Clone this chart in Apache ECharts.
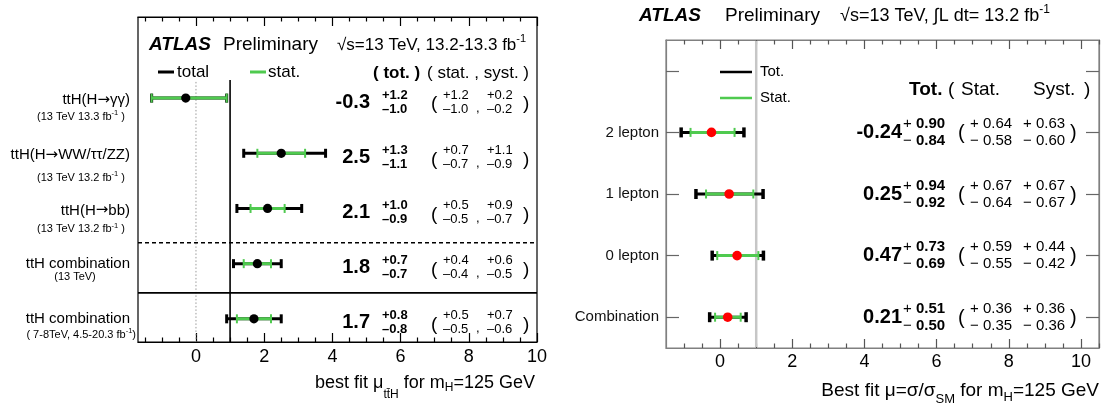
<!DOCTYPE html>
<html>
<head>
<meta charset="utf-8">
<script src="https://cdn.jsdelivr.net/npm/echarts@6/dist/echarts.min.js"></script>
<style>
  html, body { margin: 0; padding: 0; background: #fff; }
  #chart { width: 1102px; height: 406px; }
</style>
</head>
<body>
<div id="chart"></div>
<script>
// ---- ttH signal strength by channel (left panel) ----
const leftRows = ['ttH(H\u2192\u03b3\u03b3)', 'ttH(H\u2192WW/\u03c4\u03c4/ZZ)', 'ttH(H\u2192bb)', 'ttH combination', 'ttH combination'];
const leftSubs = ['(13 TeV 13.3 fb^{-1} )', '(13 TeV 13.2 fb^{-1} )', '(13 TeV 13.2 fb^{-1} )', '(13 TeV)', '( 7-8TeV, 4.5-20.3 fb^{-1})'];
const leftMu     = [-0.3, 2.5, 2.1, 1.8, 1.7];
const leftTotUp  = [1.2, 1.3, 1.0, 0.7, 0.8];
const leftTotDn  = [1.0, 1.1, 0.9, 0.7, 0.8];
const leftStatUp = [1.2, 0.7, 0.5, 0.4, 0.5];
const leftStatDn = [1.0, 0.7, 0.5, 0.4, 0.5];
const leftSystUp = [0.2, 1.1, 0.9, 0.6, 0.7];
const leftSystDn = [0.2, 0.9, 0.7, 0.5, 0.6];
const leftTickLabels = [0, 2, 4, 6, 8, 10];

// ---- ttH multilepton categories (right panel) ----
const rightRows = ['2 lepton', '1 lepton', '0 lepton', 'Combination'];
const rightMu     = [-0.24, 0.25, 0.47, 0.21];
const rightTotUp  = [0.90, 0.94, 0.73, 0.51];
const rightTotDn  = [0.84, 0.92, 0.69, 0.50];
const rightStatUp = [0.64, 0.67, 0.59, 0.36];
const rightStatDn = [0.58, 0.64, 0.55, 0.35];
const rightSystUp = [0.63, 0.67, 0.44, 0.36];
const rightSystDn = [0.60, 0.67, 0.42, 0.36];
const rightTickLabels = [0, 2, 4, 6, 8, 10];

const FONT = '"Liberation Sans", Arial, Helvetica, sans-serif';
const ARROW_FONT = '"DejaVu Sans", sans-serif';
const GREEN = '#4fca4f';
const MINUS = '\u2212';
const DASH = '\u2013';

// text measuring, so mixed-size runs (sub/superscripts) can be laid out on one line
const mctx = document.createElement('canvas').getContext('2d');
function fontStr(p) { return (p.italic ? 'italic ' : '') + (p.bold ? 'bold ' : '') + p.size + 'px ' + (p.family || FONT); }
function measure(p) { mctx.font = fontStr(p); return mctx.measureText(p.t).width; }
function runs(parts, x, y, anchor) {
  const w = parts.map(measure);
  const total = w.reduce((a, b) => a + b, 0);
  let cx = anchor === 'right' ? x - total : anchor === 'center' ? x - total / 2 : x;
  return parts.map((p, k) => {
    const el = {
      type: 'text', x: cx, y: y + (p.dy || 0), silent: true,
      style: {
        text: p.t, fontSize: p.size, fontFamily: p.family || FONT,
        fontWeight: p.bold ? 'bold' : 'normal', fontStyle: p.italic ? 'italic' : 'normal',
        fill: p.color || '#000', align: 'left', verticalAlign: 'middle'
      }
    };
    cx += w[k];
    return el;
  });
}
// "fb^{-1}" -> runs with a raised exponent
function supRuns(str, size, supSize, supDy) {
  const out = [];
  str.split(/\^\{([^}]*)\}/).forEach((s, k) => {
    if (!s) return;
    out.push(k % 2 ? { t: s, size: supSize, dy: supDy } : { t: s, size: size });
  });
  return out;
}
// decay arrows drawn with a font that has a long arrow glyph
function arrowRuns(str, size) {
  const out = [];
  str.split('\u2192').forEach((s, k) => {
    if (k > 0) out.push({ t: '\u2192', size: size, family: ARROW_FONT });
    if (s) out.push({ t: s, size: size });
  });
  return out;
}
const f1 = v => (v < 0 ? '-' : '') + Math.abs(v).toFixed(1);
const f2 = v => (v < 0 ? '-' : '') + Math.abs(v).toFixed(2);

// ---- axis helpers ----
function range(a, b, s) { const r = []; for (let v = a; v <= b + 1e-9; v += s) r.push(Math.round(v * 100) / 100); return r; }
function xAxes(gridIndex, min, max, majors, minors, lineColor, tickColor, labelSize, margin) {
  const base = { type: 'value', gridIndex, min, max, splitLine: { show: false } };
  const line = { show: true, onZero: false, lineStyle: { color: lineColor, width: 1.2 } };
  return [
    Object.assign({}, base, { position: 'bottom', axisLine: line,
      axisTick: { show: true, inside: true, length: 9, customValues: majors, lineStyle: { color: tickColor, width: 1.2 } },
      axisLabel: { show: true, customValues: majors, fontSize: labelSize, fontFamily: FONT, color: '#000', margin } }),
    Object.assign({}, base, { position: 'bottom', axisLine: { show: false, onZero: false },
      axisTick: { show: true, inside: true, length: 4.5, customValues: minors, lineStyle: { color: tickColor, width: 1.2 } },
      axisLabel: { show: false } }),
    Object.assign({}, base, { position: 'top', axisLine: line,
      axisTick: { show: true, inside: true, length: 9, customValues: majors, lineStyle: { color: tickColor, width: 1.2 } },
      axisLabel: { show: false } }),
    Object.assign({}, base, { position: 'top', axisLine: { show: false, onZero: false },
      axisTick: { show: true, inside: true, length: 4.5, customValues: minors, lineStyle: { color: tickColor, width: 1.2 } },
      axisLabel: { show: false } })
  ];
}

const L = { mu: leftMu, totUp: leftTotUp, totDn: leftTotDn, statUp: leftStatUp, statDn: leftStatDn, systUp: leftSystUp, systDn: leftSystDn };
const R = { mu: rightMu, totUp: rightTotUp, totDn: rightTotDn, statUp: rightStatUp, statDn: rightStatDn, systUp: rightSystUp, systDn: rightSystDn };

const seg = (x1, y1, x2, y2, stroke, w, dash) => ({
  type: 'line', shape: { x1, y1, x2, y2 }, silent: true,
  style: { stroke, lineWidth: w, lineDash: dash || null }
});

// error bar: black total band with caps, green stat band with ticks, marker on top
function errorBars(d, dot, o, texts) {
  return function (params, api) {
    const i = api.value(2);
    const yv = api.value(1);
    const m = d.mu[i];
    const c = api.coord([m, yv]);
    const y = c[1];
    const lo = api.coord([m - d.totDn[i], yv])[0];
    const hi = api.coord([m + d.totUp[i], yv])[0];
    const slo = api.coord([m - d.statDn[i], yv])[0];
    const shi = api.coord([m + d.statUp[i], yv])[0];
    const k = [
      seg(lo, y, hi, y, '#000', o.lw),
      seg(lo, y - o.cap, lo, y + o.cap, '#000', o.capW),
      seg(hi, y - o.cap, hi, y + o.cap, '#000', o.capW),
      seg(slo, y, shi, y, GREEN, o.lw),
      seg(slo, y - o.tick, slo, y + o.tick, GREEN, o.tickW),
      seg(shi, y - o.tick, shi, y + o.tick, GREEN, o.tickW),
      { type: 'circle', shape: { cx: c[0], cy: y, r: o.r }, style: { fill: dot }, silent: true }
    ];
    return { type: 'group', children: k.concat(texts(i, y)) };
  };
}

// left panel text block per row
const subDy = [19, 25, 21, 13, 16];
const subAnchor = [[125, 'right'], [125, 'right'], [125, 'right'], [75, 'center'], [136, 'right']];
const mainDy = [2, 2, 2, 0, 0];
function leftTexts(i, y) {
  const t = y + 4;
  let els = [];
  els = els.concat(runs(arrowRuns(leftRows[i], 15), 130, y + mainDy[i], 'right'));
  els = els.concat(runs(supRuns(leftSubs[i], 11, 7.5, -4), subAnchor[i][0], y + subDy[i], subAnchor[i][1]));
  els = els.concat(runs([{ t: f1(leftMu[i]), size: 20, bold: true }], 370, t, 'right'));
  els = els.concat(runs([{ t: '+' + leftTotUp[i].toFixed(1), size: 13, bold: true }], 382, t - 7, 'left'));
  els = els.concat(runs([{ t: DASH + leftTotDn[i].toFixed(1), size: 13, bold: true }], 382, t + 7, 'left'));
  els = els.concat(runs([{ t: '(', size: 19 }], 431, t + 2, 'left'));
  els = els.concat(runs([{ t: '+' + leftStatUp[i].toFixed(1), size: 13 }], 443, t - 7, 'left'));
  els = els.concat(runs([{ t: DASH + leftStatDn[i].toFixed(1), size: 13 }], 443, t + 7, 'left'));
  els = els.concat(runs([{ t: ',', size: 13 }], 476, t + 6, 'left'));
  els = els.concat(runs([{ t: '+' + leftSystUp[i].toFixed(1), size: 13 }], 487, t - 7, 'left'));
  els = els.concat(runs([{ t: DASH + leftSystDn[i].toFixed(1), size: 13 }], 487, t + 7, 'left'));
  els = els.concat(runs([{ t: ')', size: 19 }], 523, t + 2, 'left'));
  return els;
}

// right panel text block per row
function rightTexts(i, y) {
  let els = [];
  els = els.concat(runs([{ t: f2(rightMu[i]), size: 20, bold: true }], 902, y, 'right'));
  els = els.concat(runs([{ t: '+ ', size: 15 }, { t: rightTotUp[i].toFixed(2), size: 15, bold: true }], 903, y - 8.5, 'left'));
  els = els.concat(runs([{ t: MINUS + ' ', size: 15 }, { t: rightTotDn[i].toFixed(2), size: 15, bold: true }], 903, y + 8.5, 'left'));
  els = els.concat(runs([{ t: '(', size: 20 }], 958, y + 1, 'left'));
  els = els.concat(runs([{ t: '+ ' + rightStatUp[i].toFixed(2), size: 15 }], 970, y - 8.5, 'left'));
  els = els.concat(runs([{ t: MINUS + ' ' + rightStatDn[i].toFixed(2), size: 15 }], 970, y + 8.5, 'left'));
  els = els.concat(runs([{ t: '+ ' + rightSystUp[i].toFixed(2), size: 15 }], 1023, y - 8.5, 'left'));
  els = els.concat(runs([{ t: MINUS + ' ' + rightSystDn[i].toFixed(2), size: 15 }], 1023, y + 8.5, 'left'));
  els = els.concat(runs([{ t: ')', size: 20 }], 1070, y + 1, 'left'));
  return els;
}

// static annotations: experiment labels, legends, column headers, axis titles
let graphics = [];
graphics = graphics.concat(runs([{ t: 'ATLAS', size: 19, bold: true, italic: true }], 149, 45, 'left'));
graphics = graphics.concat(runs([{ t: 'Preliminary', size: 19 }], 223, 45, 'left'));
graphics = graphics.concat(runs(supRuns('\u221as=13 TeV, 13.2-13.3 fb^{-1}', 17, 11, -6), 337, 45, 'left'));
graphics.push(seg(158, 72, 174, 72, '#000', 3));
graphics = graphics.concat(runs([{ t: 'total', size: 17 }], 177, 72, 'left'));
graphics.push(seg(250, 72, 266, 72, GREEN, 3));
graphics = graphics.concat(runs([{ t: 'stat.', size: 17 }], 268, 72, 'left'));
graphics = graphics.concat(runs([{ t: '( tot. )', size: 17, bold: true }], 373, 73, 'left'));
graphics = graphics.concat(runs([{ t: '( stat. , syst. )', size: 17 }], 427, 73, 'left'));
graphics = graphics.concat(runs([
  { t: 'best fit \u03bc', size: 18 }, { t: 'tt\u0304H', size: 12, dy: 12 },
  { t: ' for m', size: 18 }, { t: 'H', size: 12, dy: 5 }, { t: '=125 GeV', size: 18 }
], 535, 383, 'right'));

graphics = graphics.concat(runs([{ t: 'ATLAS', size: 19, bold: true, italic: true }], 639, 16, 'left'));
graphics = graphics.concat(runs([{ t: 'Preliminary', size: 19 }], 725, 16, 'left'));
graphics = graphics.concat(runs(supRuns('\u221as=13 TeV, \u222bL dt= 13.2 fb^{-1}', 18, 12, -6), 840, 16, 'left'));
graphics.push(seg(720, 72, 752, 72, '#000', 2.5));
graphics = graphics.concat(runs([{ t: 'Tot.', size: 15 }], 760, 72, 'left'));
graphics.push(seg(720, 98, 752, 98, GREEN, 2.5));
graphics = graphics.concat(runs([{ t: 'Stat.', size: 15 }], 760, 98, 'left'));
graphics = graphics.concat(runs([{ t: 'Tot.', size: 19, bold: true }], 909, 90, 'left'));
graphics = graphics.concat(runs([{ t: '(', size: 19 }], 948, 90, 'left'));
graphics = graphics.concat(runs([{ t: 'Stat.', size: 19 }], 961, 90, 'left'));
graphics = graphics.concat(runs([{ t: 'Syst.', size: 19 }], 1033, 90, 'left'));
graphics = graphics.concat(runs([{ t: ')', size: 19 }], 1084, 90, 'left'));
graphics = graphics.concat(runs([
  { t: 'Best fit \u03bc=\u03c3/\u03c3', size: 19 }, { t: 'SM', size: 13, dy: 8 },
  { t: ' for m', size: 19 }, { t: 'H', size: 13, dy: 6 }, { t: '=125 GeV', size: 19 }
], 1099, 391, 'right'));

const leftMinors = range(-1.5, 9.5, 0.5).filter(v => Math.abs(v % 2) > 1e-6);
const rightMinors = range(-1, 10.5, 0.5).filter(v => Math.abs(v % 2) > 1e-6);

const option = {
  animation: false,
  backgroundColor: '#fff',
  grid: [
    { left: 138, top: 17, width: 399, height: 325, show: true, borderColor: '#000', borderWidth: 1.2 },
    { left: 666, top: 40, width: 433, height: 308, show: true, borderColor: '#808080', borderWidth: 1.2 }
  ],
  xAxis: xAxes(0, -1.7, 10, leftTickLabels, leftMinors, '#000', '#000', 18, 6)
    .concat(xAxes(1, -1.5, 10.5, rightTickLabels, rightMinors, '#808080', '#555', 18, 5)),
  yAxis: [
    { type: 'value', gridIndex: 0, min: -0.42, max: 5.47, show: false },
    { type: 'category', gridIndex: 1, inverse: true, position: 'left', data: [''].concat(rightRows),
      axisLine: { show: true, onZero: false, lineStyle: { color: '#808080', width: 1.2 } },
      axisTick: { show: true, inside: true, length: 13, alignWithLabel: true, interval: 0, lineStyle: { color: '#666', width: 1.2 } },
      axisLabel: { show: true, interval: 0, fontSize: 15, fontFamily: FONT, color: '#111', margin: 7 },
      splitLine: { show: false } },
    { type: 'category', gridIndex: 1, inverse: true, position: 'right', data: [''].concat(rightRows),
      axisLine: { show: true, onZero: false, lineStyle: { color: '#808080', width: 1.2 } },
      axisTick: { show: true, inside: true, length: 13, alignWithLabel: true, interval: 0, lineStyle: { color: '#666', width: 1.2 } },
      axisLabel: { show: false }, splitLine: { show: false } }
  ],
  series: [
    { // reference lines and row separators, left panel
      type: 'custom', xAxisIndex: 0, yAxisIndex: 0, clip: false, silent: true, z: 1,
      data: [[0, 0]],
      renderItem: function (params, api) {
        const cs = params.coordSys;
        const x0 = api.coord([0, 0])[0];
        const x1 = api.coord([1, 0])[0];
        const yTop = api.coord([0, 4.33])[1];
        const ySep1 = api.coord([0, 1.38])[1];
        const ySep2 = api.coord([0, 0.47])[1];
        const bottom = cs.y + cs.height;
        return { type: 'group', children: [
          seg(x0, yTop + 2, x0, bottom, '#9a9a9a', 1, [1.5, 2]),
          seg(x1, yTop, x1, bottom, '#000', 1.6),
          seg(cs.x, ySep1, cs.x + cs.width, ySep1, '#000', 1.5, [4, 3]),
          seg(cs.x, ySep2, cs.x + cs.width, ySep2, '#000', 1.6)
        ] };
      }
    },
    {
      type: 'custom', xAxisIndex: 0, yAxisIndex: 0, clip: false, silent: true, z: 3,
      data: leftMu.map((m, i) => [m, leftMu.length - 1 - i, i]),
      renderItem: errorBars(L, '#000', { lw: 3, cap: 4.5, capW: 3, tick: 4.5, tickW: 2, r: 4.6 }, leftTexts)
    },
    { // SM reference line, right panel
      type: 'custom', xAxisIndex: 4, yAxisIndex: 1, clip: false, silent: true, z: 1,
      data: [[1, 0]],
      renderItem: function (params, api) {
        const cs = params.coordSys;
        const x1 = api.coord([1, 0])[0];
        return seg(x1, cs.y + 1, x1, cs.y + cs.height - 1, '#c6c6c6', 2.5);
      }
    },
    {
      type: 'custom', xAxisIndex: 4, yAxisIndex: 1, clip: false, silent: true, z: 3,
      data: rightMu.map((m, i) => [m, i + 1, i]),
      renderItem: errorBars(R, '#ff0000', { lw: 3, cap: 5, capW: 3.5, tick: 4.5, tickW: 2, r: 4.8 }, rightTexts)
    }
  ],
  graphic: graphics
};

const chart = echarts.init(document.getElementById('chart'), null, { renderer: 'canvas' });
chart.setOption(option);
</script>
</body>
</html>
